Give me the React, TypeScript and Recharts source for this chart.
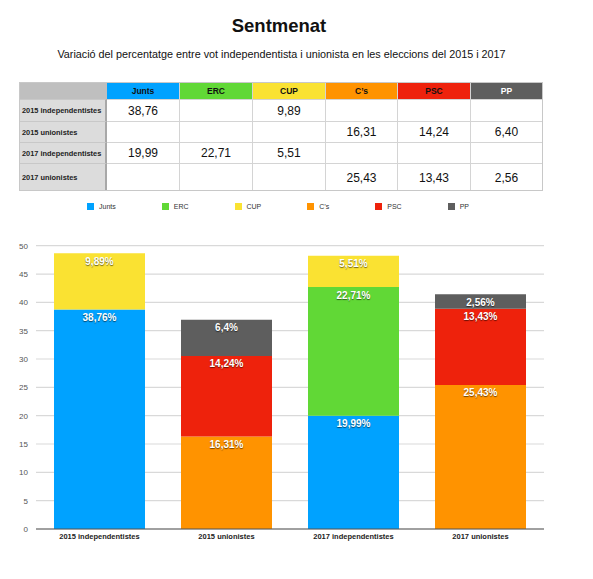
import React from "react";
import {
  BarChart,
  Bar,
  XAxis,
  YAxis,
  CartesianGrid,
  LabelList,
} from "recharts";

const categories = [
  "2015 independentistes",
  "2015 unionistes",
  "2017 independentistes",
  "2017 unionistes",
];

const parties = ["Junts", "ERC", "CUP", "C’s", "PSC", "PP"];

const junts = [38.76, null, 19.99, null];
const erc = [null, null, 22.71, null];
const cup = [9.89, null, 5.51, null];
const cs = [null, 16.31, null, 25.43];
const psc = [null, 14.24, null, 13.43];
const pp = [null, 6.4, null, 2.56];

const yTicks = [0, 5, 10, 15, 20, 25, 30, 35, 40, 45, 50];

const series: (number | null)[][] = [junts, erc, cup, cs, psc, pp];

const COLORS: Record<string, string> = {
  Junts: "#00a2ff",
  ERC: "#61d836",
  CUP: "#fae232",
  "C’s": "#ff9300",
  PSC: "#ee220c",
  PP: "#5e5e5e",
};

const HEADER_TEXT: Record<string, string> = {
  Junts: "#111",
  ERC: "#111",
  CUP: "#111",
  "C’s": "#111",
  PSC: "#111",
  PP: "#fff",
};

const rows = categories.map((name, i) => {
  const row: Record<string, string | number | null> = { name };
  parties.forEach((p, k) => {
    row[p] = series[k][i];
  });
  return row;
});

const FONT = '"Liberation Sans", Arial, Helvetica, sans-serif';

// table grid edges
const colX = [19, 107, 180, 253, 326, 398, 471, 543];
const rowY = [82, 99, 121, 142, 163, 191];

function DataTable() {
  const cells: React.ReactNode[] = [];
  // header
  cells.push(
    <div
      key="corner"
      style={{
        position: "absolute",
        left: colX[0],
        top: rowY[0],
        width: colX[1] - colX[0],
        height: rowY[1] - rowY[0],
        background: "#bfbfbf",
        boxSizing: "border-box",
      }}
    />
  );
  parties.forEach((p, k) => {
    cells.push(
      <div
        key={"h" + p}
        style={{
          position: "absolute",
          left: colX[k + 1],
          top: rowY[0],
          width: colX[k + 2] - colX[k + 1],
          height: rowY[1] - rowY[0],
          background: COLORS[p],
          color: HEADER_TEXT[p],
          fontWeight: 700,
          fontSize: 8.5,
          display: "flex",
          alignItems: "center",
          justifyContent: "center",
          borderRight: "1px solid #d4d4d4",
          boxSizing: "border-box",
        }}
      >
        {p}
      </div>
    );
  });
  categories.forEach((c, i) => {
    const top = rowY[i + 1];
    const h = rowY[i + 2] - top;
    cells.push(
      <div
        key={"l" + c}
        style={{
          position: "absolute",
          left: colX[0],
          top,
          width: colX[1] - colX[0],
          height: h,
          background: "#dcdcdc",
          color: "#222",
          fontWeight: 700,
          fontSize: 7.4,
          display: "flex",
          alignItems: "center",
          paddingLeft: 3,
          borderTop: "1px solid #c8c8c8",
          borderRight: "2px solid #a8a8a8",
          boxSizing: "border-box",
          whiteSpace: "nowrap",
        }}
      >
        {c}
      </div>
    );
    parties.forEach((p, k) => {
      const v = series[k][i];
      cells.push(
        <div
          key={"c" + c + p}
          style={{
            position: "absolute",
            left: colX[k + 1],
            top,
            width: colX[k + 2] - colX[k + 1],
            height: h,
            background: "#fff",
            color: "#111",
            fontSize: 12,
            display: "flex",
            alignItems: "center",
            justifyContent: "center",
            borderTop: "1px solid #d4d4d4",
            borderRight: "1px solid #d4d4d4",
            boxSizing: "border-box",
          }}
        >
          {v == null ? "" : v.toFixed(2).replace(".", ",")}
        </div>
      );
    });
  });
  return (
    <>
      {cells}
      <div
        style={{
          position: "absolute",
          left: colX[0],
          top: rowY[0],
          width: colX[colX.length - 1] - colX[0],
          height: rowY[rowY.length - 1] - rowY[0],
          border: "1px solid #c8c8c8",
          boxSizing: "border-box",
          pointerEvents: "none",
        }}
      />
    </>
  );
}

function SegmentLabel(props: any) {
  const { x, y, width, value } = props;
  if (value == null || value === 0) return null;
  return (
    <text
      x={Number(x) + Number(width) / 2}
      y={Number(y) + 8}
      textAnchor="middle"
      dominantBaseline="central"
      fill="#fff"
      fontSize={10}
      fontWeight={700}
      fontFamily={FONT}
      style={{ textShadow: "0 1px 1px rgba(0,0,0,0.55)" }}
    >
      {String(value).replace(".", ",") + "%"}
    </text>
  );
}

export default function App() {
  return (
    <div
      style={{
        position: "absolute",
        left: 0,
        top: 0,
        width: 593,
        height: 579,
        background: "#fff",
        fontFamily: FONT,
        overflow: "hidden",
      }}
    >
      <div
        style={{
          position: "absolute",
          left: 0,
          width: 558,
          top: 15,
          textAlign: "center",
          fontSize: 18.5,
          fontWeight: 700,
          color: "#111",
        }}
      >
        Sentmenat
      </div>
      <div
        style={{
          position: "absolute",
          left: 0,
          width: 563,
          top: 48,
          textAlign: "center",
          fontSize: 10.8,
          color: "#111",
          whiteSpace: "nowrap",
        }}
      >
        Variació del percentatge entre vot independentista i unionista en les
        eleccions del 2015 i 2017
      </div>

      <DataTable />

      <div
        style={{
          position: "absolute",
          left: 0,
          width: 556,
          top: 203,
          display: "flex",
          justifyContent: "center",
          gap: 46,
          fontSize: 7,
          color: "#333",
        }}
      >
        {parties.map((p) => (
          <div key={p} style={{ display: "flex", alignItems: "center" }}>
            <span
              style={{
                width: 7,
                height: 7,
                background: COLORS[p],
                marginRight: 5,
                display: "inline-block",
              }}
            />
            {p}
          </div>
        ))}
      </div>

      <div style={{ position: "absolute", left: 0, top: 195 }}>
        <BarChart
          width={593}
          height={384}
          data={rows}
          margin={{ top: 50.7, right: 49, bottom: 20, left: 0 }}
          barSize={91}
        >
          <CartesianGrid vertical={false} stroke="#d9d9d9" strokeWidth={1.2} />
          <XAxis
            dataKey="name"
            height={30}
            tickLine={false}
            tickSize={3}
            axisLine={{ stroke: "#555", strokeWidth: 1.2 }}
            tick={{ fontSize: 7.5, fontWeight: 700, fill: "#222", fontFamily: FONT }}
            interval={0}
          />
          <YAxis
            width={36}
            domain={[0, 50]}
            ticks={yTicks}
            axisLine={false}
            tickLine={false}
            tick={{ fontSize: 8, fill: "#555", fontFamily: FONT }}
          />
          {parties.map((p) => (
            <Bar
              key={p}
              dataKey={p}
              stackId="a"
              fill={COLORS[p]}
              isAnimationActive={false}
            >
              <LabelList dataKey={p} content={SegmentLabel} />
            </Bar>
          ))}
        </BarChart>
      </div>
    </div>
  );
}
